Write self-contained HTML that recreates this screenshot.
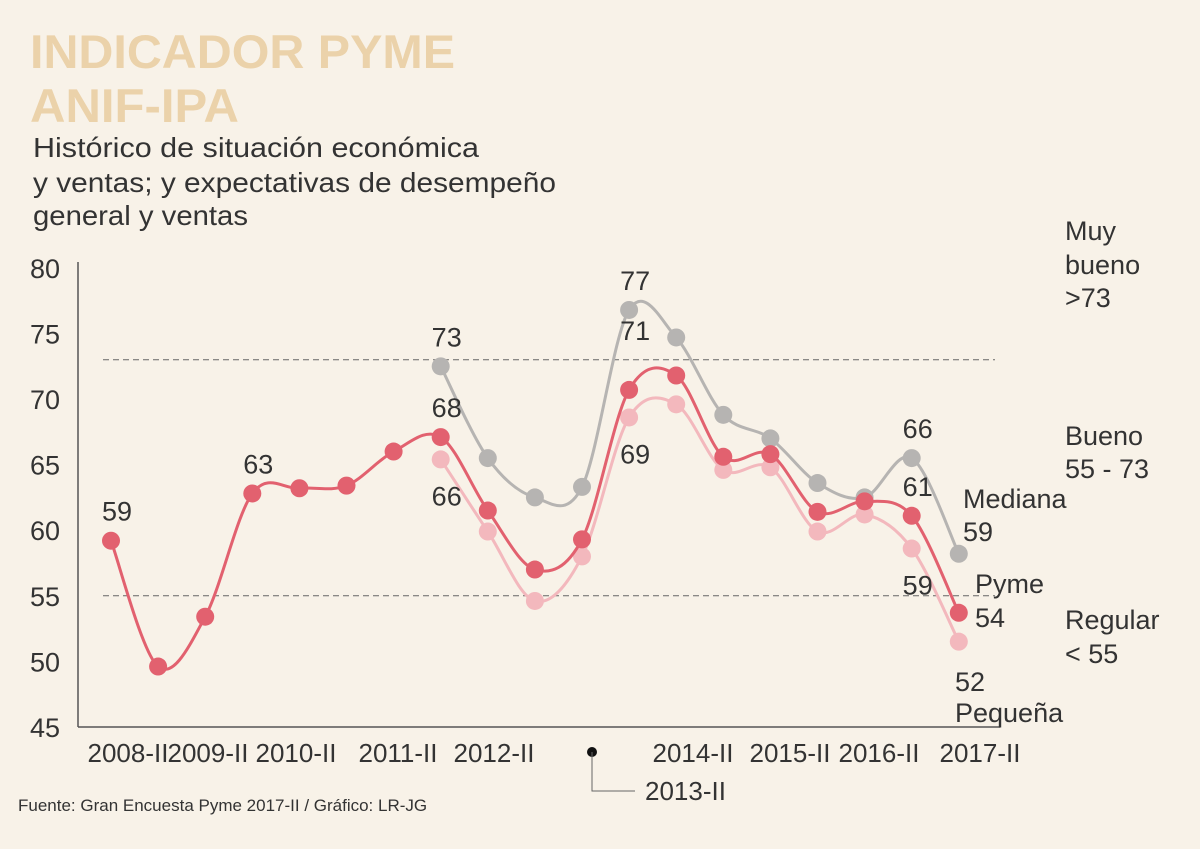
<!DOCTYPE html>
<html><head><meta charset="utf-8"><style>
body{margin:0;background:#f8f2e8;}
svg{display:block;font-family:"Liberation Sans",sans-serif;}
</style></head><body>
<svg id="c" width="1200" height="849" viewBox="0 0 1200 849">
<rect width="1200" height="849" fill="#f8f2e8"/>
<text x="30" y="68" font-size="47" font-weight="bold" fill="#ebd2aa" textLength="425" lengthAdjust="spacingAndGlyphs">INDICADOR PYME</text>
<text x="30" y="122" font-size="47" font-weight="bold" fill="#ebd2aa" textLength="209" lengthAdjust="spacingAndGlyphs">ANIF-IPA</text>
<g font-size="28" fill="#333">
<text x="33" y="157" textLength="446" lengthAdjust="spacingAndGlyphs">Histórico de situación económica</text>
<text x="33" y="192" textLength="523" lengthAdjust="spacingAndGlyphs">y ventas; y expectativas de desempeño</text>
<text x="33" y="225" textLength="215" lengthAdjust="spacingAndGlyphs">general y ventas</text>
</g>
<g id="axes"></g>
<g id="series"></g>
<g font-size="27" fill="#333">
<text x="1065" y="240">Muy</text><text x="1065" y="274">bueno</text><text x="1065" y="307">&gt;73</text>
<text x="1065" y="445">Bueno</text><text x="1065" y="478">55 - 73</text>
<text x="1065" y="629">Regular</text><text x="1065" y="663">&lt; 55</text>
</g>
<g font-size="27" fill="#333">
<text x="963" y="508">Mediana</text><text x="963" y="541">59</text>
<text x="975" y="593">Pyme</text><text x="975" y="627">54</text>
<text x="955" y="691">52</text><text x="955" y="722">Pequeña</text>
</g>
<text x="18" y="811" font-size="17" fill="#333">Fuente: Gran Encuesta Pyme 2017-II / Gráfico: LR-JG</text>
</svg>
<script>
const categories=["2008-II","2009-I","2009-II","2010-I","2010-II","2011-I","2011-II","2012-I","2012-II","2013-I","2013-II","2014-I","2014-II","2015-I","2015-II","2016-I","2016-II","2017-I","2017-II"];
const pyme=[59.2,49.6,53.4,62.8,63.2,63.4,66.0,67.1,61.5,57.0,59.3,70.7,71.8,65.6,65.8,61.4,62.2,61.1,53.7];
const mediana=[null,null,null,null,null,null,null,72.5,65.5,62.5,63.3,76.8,74.7,68.8,67.0,63.6,62.5,65.5,58.2];
const pequena=[null,null,null,null,null,null,null,65.4,59.9,54.6,58.0,68.6,69.6,64.6,64.8,59.9,61.2,58.6,51.5];
const yTicks=[45,50,55,60,65,70,75,80];
const xLabels=["2008-II","2009-II","2010-II","2011-II","2012-II","2014-II","2015-II","2016-II","2017-II"];
const pymeLabels=[[0,"59"],[3,"63"],[7,"68"],[11,"71"],[17,"61"]];
const medianaLabels=[[7,"73"],[11,"77"],[17,"66"]];
const pequenaLabels=[[7,"66"],[11,"69"],[17,"59"]];
const NS="http://www.w3.org/2000/svg";
const x=i=>111+i*47.1;
const y=v=>268+(80-v)*13.11;
function mk(tag,attrs,parent){const e=document.createElementNS(NS,tag);for(const k in attrs)e.setAttribute(k,attrs[k]);parent.appendChild(e);return e;}
const ax=document.getElementById('axes'), sg=document.getElementById('series');
const yl=mk('line',{x1:78,y1:262,x2:78,y2:727,stroke:'#555','stroke-width':1.5},ax);


const xl=mk('line',{x1:78,y1:727,x2:1000,y2:727,stroke:'#555','stroke-width':1.5},ax);


yTicks.forEach(v=>{const t=mk('text',{x:30,y:y(v)+10,'font-size':27,fill:'#333'},ax);t.textContent=v;

});
[73,55].forEach(v=>{const l=mk('line',{x1:103,x2:995,y1:y(v),y2:y(v),stroke:'#666','stroke-dasharray':'6,4','stroke-width':1},ax);

});
const xlPos=[128,208,296,398,494,693,790,879,980];
xLabels.forEach((s,i)=>{const t=mk('text',{x:xlPos[i],y:762,'font-size':26,fill:'#333','text-anchor':'middle'},ax);t.textContent=s;

});
const d=mk('circle',{cx:592,cy:752,r:5,fill:'#111'},ax);


const ll=mk('polyline',{points:'592,752 592,791 635,791',fill:'none',stroke:'#666','stroke-width':1},ax);


const t13=mk('text',{x:645,y:800,'font-size':26,fill:'#333'},ax);t13.textContent="2013-II";


function smooth(p){let s=`M${p[0][0]},${p[0][1]}`;for(let i=0;i<p.length-1;i++){const p0=p[i-1]||p[i],p1=p[i],p2=p[i+1],p3=p[i+2]||p2;
const c1=[p1[0]+(p2[0]-p0[0])/6,p1[1]+(p2[1]-p0[1])/6],c2=[p2[0]-(p3[0]-p1[0])/6,p2[1]-(p3[1]-p1[1])/6];s+=`C${c1[0]},${c1[1]} ${c2[0]},${c2[1]} ${p2[0]},${p2[1]}`;}return s;}
function draw(vals,color,name,labels,dy){const pts=[];vals.forEach((v,i)=>{if(v!=null)pts.push([x(i),y(v)]);});
const p=mk('path',{d:smooth(pts),fill:'none',stroke:color,'stroke-width':3},sg);


vals.forEach((v,i)=>{if(v==null)return;const c=mk('circle',{cx:x(i),cy:y(v),r:9,fill:color},sg);

});
labels.forEach(([i,s])=>{const extra=(name==='pyme'&&i===11)?-30:0;
const t=mk('text',{x:x(i)+6,y:y(vals[i])+dy+extra,'font-size':27,fill:'#333','text-anchor':'middle'},sg);t.textContent=s;

});}
draw(mediana,'#b6b4b2','mediana',medianaLabels,-20);
draw(pequena,'#f3b8bd','pequena',pequenaLabels,46);
draw(pyme,'#e2616f','pyme',pymeLabels,-20);
</script>
</body></html>
